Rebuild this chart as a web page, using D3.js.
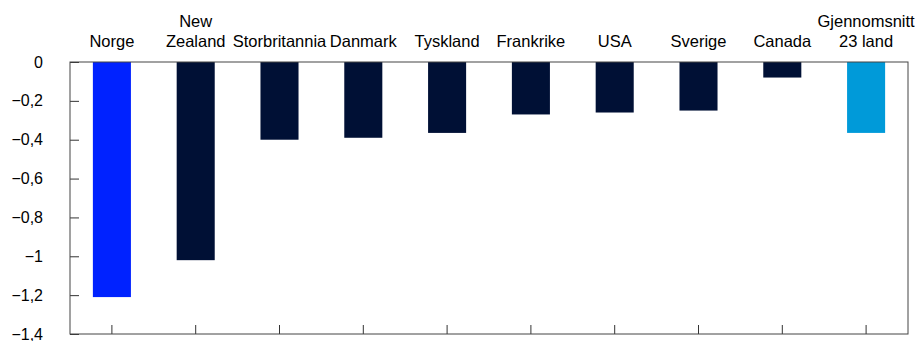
<!DOCTYPE html>
<html>
<head>
<meta charset="utf-8">
<script src="https://cdn.jsdelivr.net/npm/d3@7"></script>
<style>
  body { margin: 0; background: #fff; }
  svg { display: block; font-family: "Liberation Sans", Arial, sans-serif; }
</style>
</head>
<body>
<div id="chart"></div>
<script>
// Data
var countries = ['Norge', 'New Zealand', 'Storbritannia', 'Danmark', 'Tyskland',
  'Frankrike', 'USA', 'Sverige', 'Canada', 'Gjennomsnitt 23 land'];
var labelLines = [['Norge'], ['New', 'Zealand'], ['Storbritannia'], ['Danmark'], ['Tyskland'],
  ['Frankrike'], ['USA'], ['Sverige'], ['Canada'], ['Gjennomsnitt', '23 land']];
var values = [-1.21, -1.02, -0.40, -0.39, -0.365, -0.27, -0.26, -0.25, -0.08, -0.365];
var barColors = ['#0022ff', '#001035', '#001035', '#001035', '#001035',
  '#001035', '#001035', '#001035', '#001035', '#009ad9'];
var yTicks = [0, -0.2, -0.4, -0.6, -0.8, -1, -1.2, -1.4];

// Create SVG Element
var chartWidth = 915;
var chartHeight = 341;
var margin = { top: 62, right: 7, bottom: 7, left: 70 };
var innerW = chartWidth - margin.left - margin.right;
var innerH = chartHeight - margin.top - margin.bottom;

var svg = d3.select('#chart')
    .append('svg')
    .attr('width', chartWidth)
    .attr('height', chartHeight);

var g = svg.append('g')
    .attr('transform', 'translate(' + margin.left + ',' + margin.top + ')');

// Create Scale
var pad = 0.546;
var scaleX = d3.scaleBand()
    .domain(countries)
    .range([0, innerW])
    .paddingInner(pad)
    .paddingOuter(pad / 2);

var scaleY = d3.scaleLinear()
    .domain([0, -1.4])
    .range([0, innerH]);

var fmt = function(d) {
  return d3.format('~g')(d).replace('.', ',');
};

// Bars
g.selectAll('rect.bar')
    .data(values)
    .enter()
    .append('rect')
    .attr('class', 'bar')
    .attr('x', function(d, i) { return scaleX(countries[i]); })
    .attr('y', scaleY(0))
    .attr('width', scaleX.bandwidth())
    .attr('height', function(d) { return scaleY(d) - scaleY(0); })
    .attr('fill', function(d, i) { return barColors[i]; });

// Y axis (ticks inward)
var yAxis = g.append('g')
    .call(d3.axisLeft(scaleY).tickValues(yTicks).tickSize(-9).tickPadding(27).tickFormat(fmt));
yAxis.select('.domain').remove();
yAxis.selectAll('line').attr('stroke', '#333');
yAxis.selectAll('text')
    .attr('font-size', 16)
    .attr('fill', '#000')
    .attr('font-family', '"Liberation Sans", Arial, sans-serif');

// X axis ticks at the bottom, pointing up
var xAxis = g.append('g')
    .attr('transform', 'translate(0,' + innerH + ')')
    .call(d3.axisBottom(scaleX).tickSize(-9).tickFormat(''));
xAxis.select('.domain').remove();
xAxis.selectAll('line').attr('stroke', '#333');

// Frame
g.append('rect')
    .attr('x', 0)
    .attr('y', 0)
    .attr('width', innerW)
    .attr('height', innerH)
    .attr('fill', 'none')
    .attr('stroke', '#444')
    .attr('stroke-width', 1);

// Category labels above the plot
var labels = g.selectAll('text.cat')
    .data(labelLines)
    .enter()
    .append('text')
    .attr('class', 'cat')
    .attr('text-anchor', 'middle')
    .attr('font-size', 16.5)
    .attr('fill', '#000')
    .attr('x', function(d, i) { return scaleX(countries[i]) + scaleX.bandwidth() / 2; });

labels.selectAll('tspan')
    .data(function(d) { return d; })
    .enter()
    .append('tspan')
    .attr('x', function() { return d3.select(this.parentNode).attr('x'); })
    .attr('y', function(d, j, nodes) { return -15.5 - (nodes.length - 1 - j) * 20; })
    .text(function(d) { return d; });
</script>
</body>
</html>
